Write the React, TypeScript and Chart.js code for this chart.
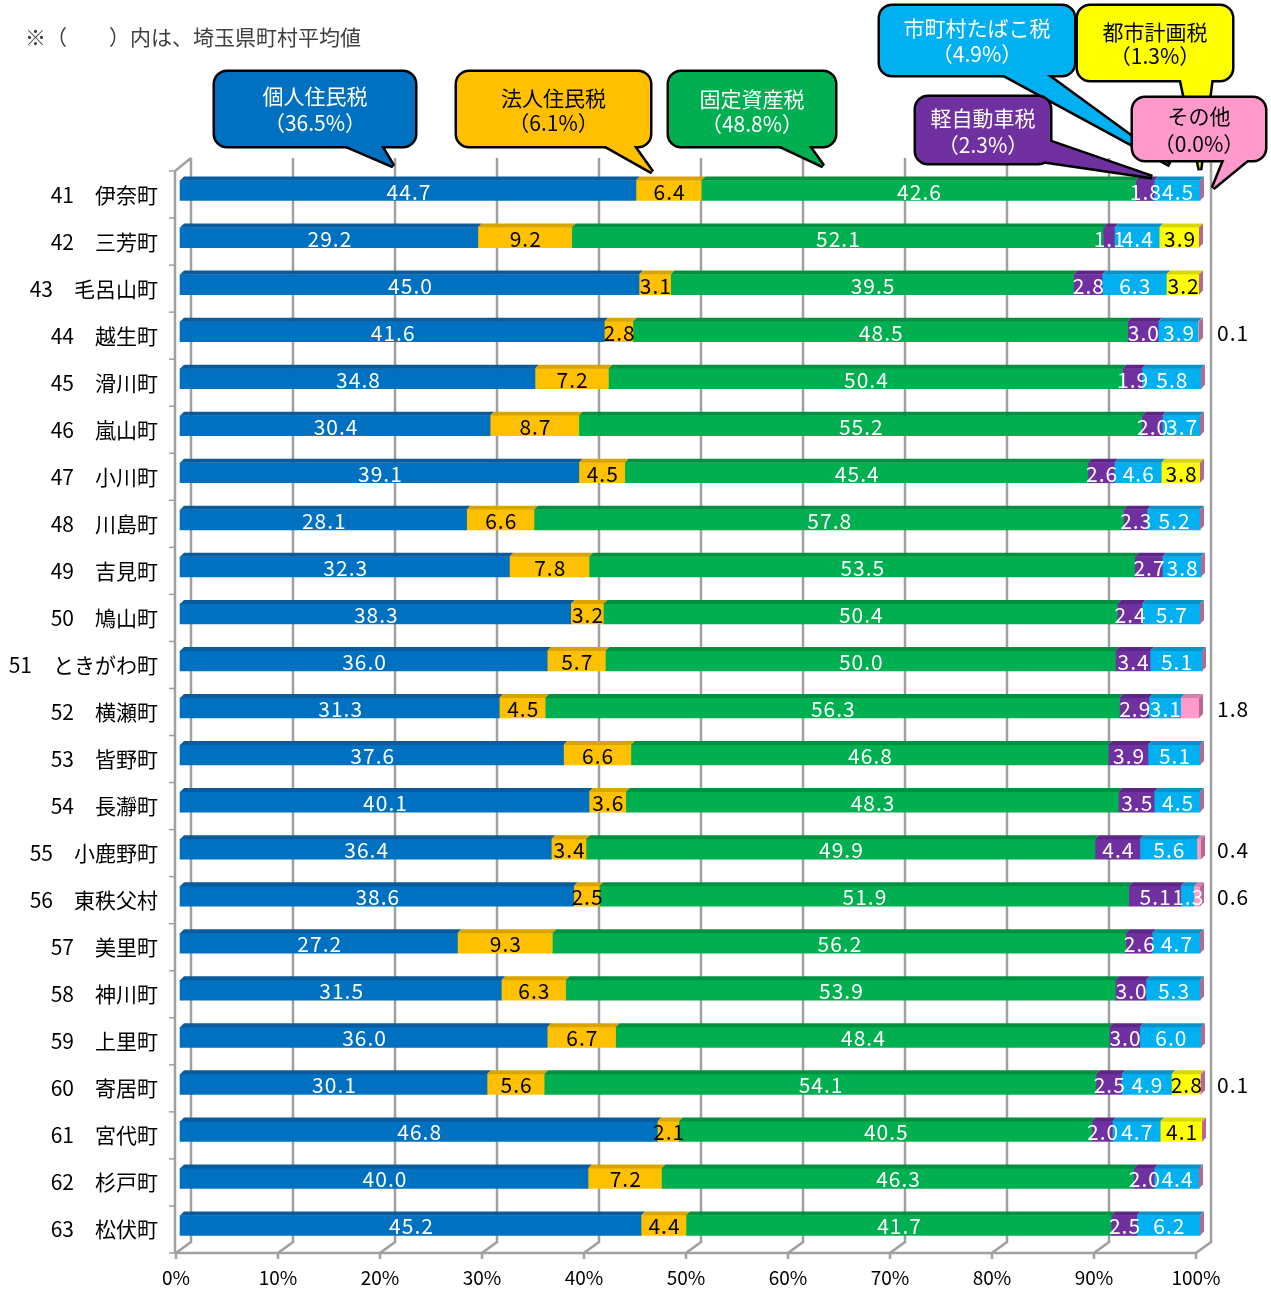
import React, { useEffect, useRef } from "react";
import { Chart, registerables } from "chart.js";

Chart.register(...registerables);

// ---------------- data ----------------
const categories = [
  "41　伊奈町", "42　三芳町", "43　毛呂山町", "44　越生町", "45　滑川町", "46　嵐山町",
  "47　小川町", "48　川島町", "49　吉見町", "50　鳩山町", "51　ときがわ町", "52　横瀬町",
  "53　皆野町", "54　長瀞町", "55　小鹿野町", "56　東秩父村", "57　美里町", "58　神川町",
  "59　上里町", "60　寄居町", "61　宮代町", "62　杉戸町", "63　松伏町",
];

const seriesNames = ["個人住民税", "法人住民税", "固定資産税", "軽自動車税", "市町村たばこ税", "都市計画税", "その他"];
const averages = ["36.5", "6.1", "48.8", "2.3", "4.9", "1.3", "0.0"];

const kojin = [44.7, 29.2, 45.0, 41.6, 34.8, 30.4, 39.1, 28.1, 32.3, 38.3, 36.0, 31.3, 37.6, 40.1, 36.4, 38.6, 27.2, 31.5, 36.0, 30.1, 46.8, 40.0, 45.2];
const houjin = [6.4, 9.2, 3.1, 2.8, 7.2, 8.7, 4.5, 6.6, 7.8, 3.2, 5.7, 4.5, 6.6, 3.6, 3.4, 2.5, 9.3, 6.3, 6.7, 5.6, 2.1, 7.2, 4.4];
const kotei = [42.6, 52.1, 39.5, 48.5, 50.4, 55.2, 45.4, 57.8, 53.5, 50.4, 50.0, 56.3, 46.8, 48.3, 49.9, 51.9, 56.2, 53.9, 48.4, 54.1, 40.5, 46.3, 41.7];
const kei = [1.8, 1.1, 2.8, 3.0, 1.9, 2.0, 2.6, 2.3, 2.7, 2.4, 3.4, 2.9, 3.9, 3.5, 4.4, 5.1, 2.6, 3.0, 3.0, 2.5, 2.0, 2.0, 2.5];
const tabako = [4.5, 4.4, 6.3, 3.9, 5.8, 3.7, 4.6, 5.2, 3.8, 5.7, 5.1, 3.1, 5.1, 4.5, 5.6, 1.3, 4.7, 5.3, 6.0, 4.9, 4.7, 4.4, 6.2];
const toshi = [0, 3.9, 3.2, 0, 0, 0, 3.8, 0, 0, 0, 0, 0, 0, 0, 0, 0, 0, 0, 0, 2.8, 4.1, 0, 0];
const sonota = [0, 0, 0, 0.1, 0, 0, 0, 0, 0, 0, 0, 1.8, 0, 0, 0.4, 0.6, 0, 0, 0, 0.1, 0, 0, 0];

const xTicks = [0, 10, 20, 30, 40, 50, 60, 70, 80, 90, 100];
const noteText = "※（　　）内は、埼玉県町村平均値";

// ---------------- styles ----------------
const FONT = "'Noto Sans CJK JP', 'Noto Sans', sans-serif";
const colors = ["#0070C0", "#FFC000", "#00B050", "#7030A0", "#00B0F0", "#FFFF00", "#FF99CC"];
const topColors = ["#0A5A9C", "#D9A300", "#00903F", "#5C2686", "#0A92C8", "#D8D800", "#D57FAA"];
const labelColors = ["#FFFFFF", "#000000", "#FFFFFF", "#FFFFFF", "#FFFFFF", "#000000", "#000000"];
const SIDE_COLOR = "#B5698F";

const DX = 4;
const DY = -4;
const DEPTH = 4;
const BACK_DX = 15;
const BACK_DY = -11;

type Bubble = {
  s: number; x: number; y: number; w: number; h: number;
  tail: number[][]; l1: number; l2: number;
};

const bubbles: Bubble[] = [
  { s: 0, x: 215, y: 72, w: 200, h: 74, tail: [[335, 141], [393, 166], [378, 141]], l1: 96, l2: 123 },
  { s: 1, x: 457, y: 72, w: 193, h: 74, tail: [[597, 141], [652, 172], [630, 141]], l1: 98, l2: 123 },
  { s: 2, x: 669, y: 72, w: 166, h: 74, tail: [[770, 141], [823, 166], [805, 141]], l1: 99, l2: 124 },
  { s: 4, x: 880, y: 6, w: 194, h: 69, tail: [[995, 70], [1170, 165], [1040, 70]], l1: 28, l2: 54 },
  { s: 5, x: 1078, y: 6, w: 154, h: 74, tail: [[1180, 75], [1200, 170], [1212, 75]], l1: 32, l2: 56 },
  { s: 3, x: 916, y: 97, w: 134, h: 66, tail: [[1022, 158], [1152, 177], [1045, 140]], l1: 118, l2: 145 },
  { s: 6, x: 1133, y: 98, w: 132, h: 62, tail: [[1226, 156], [1213, 188], [1252, 156]], l1: 116, l2: 144 },
];

function drawBubble(ctx: CanvasRenderingContext2D, b: Bubble) {
  const rect = new Path2D();
  rect.roundRect(b.x, b.y, b.w, b.h, 12);
  const tri = new Path2D();
  tri.moveTo(b.tail[0][0], b.tail[0][1]);
  tri.lineTo(b.tail[1][0], b.tail[1][1]);
  tri.lineTo(b.tail[2][0], b.tail[2][1]);
  tri.closePath();
  ctx.save();
  ctx.lineJoin = "miter";
  ctx.miterLimit = 3;
  ctx.lineWidth = 5;
  ctx.strokeStyle = "#000000";
  ctx.stroke(rect);
  ctx.stroke(tri);
  ctx.fillStyle = colors[b.s];
  ctx.fill(rect);
  ctx.fill(tri);
  ctx.fillStyle = labelColors[b.s];
  ctx.font = `21px ${FONT}`;
  ctx.textAlign = "center";
  ctx.textBaseline = "middle";
  const cx = b.x + b.w / 2;
  ctx.fillText(seriesNames[b.s], cx, b.l1);
  ctx.fillText(`（${averages[b.s]}%）`, cx, b.l2);
  ctx.restore();
}

const allSeries = [kojin, houjin, kotei, kei, tabako, toshi, sonota];

const plugin3d = {
  id: "custom3d",
  beforeDatasetsDraw(chart: any) {
    const { ctx, chartArea: a, scales } = chart;
    const xs = scales.x;
    ctx.save();
    ctx.strokeStyle = "#A0A0A0";
    ctx.lineWidth = 2.5;
    for (const v of xTicks) {
      const px = xs.getPixelForValue(v);
      ctx.beginPath();
      ctx.moveTo(px + BACK_DX, a.top - 13);
      ctx.lineTo(px + BACK_DX, a.bottom + BACK_DY);
      ctx.lineTo(px, a.bottom);
      ctx.lineTo(px, a.bottom + 6);
      ctx.stroke();
    }
    ctx.beginPath();
    ctx.moveTo(a.left - 1, a.bottom);
    ctx.lineTo(a.right, a.bottom);
    ctx.stroke();
    ctx.beginPath();
    ctx.moveTo(a.left - 1, a.bottom);
    ctx.lineTo(a.left - 1, a.top);
    ctx.lineTo(a.left + BACK_DX, a.top - 13);
    ctx.stroke();
    const n = categories.length;
    const band = (a.bottom - a.top) / n;
    ctx.lineWidth = 1.5;
    for (let k = 0; k <= n; k++) {
      const y = a.top + k * band;
      ctx.beginPath();
      ctx.moveTo(a.left - 7, y);
      ctx.lineTo(a.left - 1, y);
      ctx.stroke();
    }
    ctx.restore();
    ctx.save();
    ctx.translate(DX, DY);
  },
  afterDatasetsDraw(chart: any) {
    const { ctx, chartArea: a } = chart;
    // top faces
    allSeries.forEach((data, i) => {
      const meta = chart.getDatasetMeta(i);
      meta.data.forEach((el: any, j: number) => {
        if (!(data[j] > 0)) return;
        const p = el.getProps(["x", "y", "base", "height"], true);
        const x0 = Math.min(p.x, p.base);
        const x1 = Math.max(p.x, p.base);
        const yTop = p.y - p.height / 2;
        ctx.beginPath();
        ctx.moveTo(x0, yTop);
        ctx.lineTo(x0 + DEPTH, yTop - DEPTH);
        ctx.lineTo(x1 + DEPTH, yTop - DEPTH);
        ctx.lineTo(x1, yTop);
        ctx.closePath();
        ctx.fillStyle = topColors[i];
        ctx.fill();
      });
    });
    // side faces
    const last = chart.getDatasetMeta(allSeries.length - 1);
    last.data.forEach((el: any) => {
      const p = el.getProps(["x", "y", "base", "height"], true);
      const xe = Math.max(p.x, p.base);
      const yTop = p.y - p.height / 2;
      const yBot = p.y + p.height / 2;
      ctx.beginPath();
      ctx.moveTo(xe, yTop);
      ctx.lineTo(xe + DEPTH, yTop - DEPTH);
      ctx.lineTo(xe + DEPTH, yBot - DEPTH);
      ctx.lineTo(xe, yBot);
      ctx.closePath();
      ctx.fillStyle = SIDE_COLOR;
      ctx.fill();
    });
    // labels
    ctx.font = `21px ${FONT}`;
    (ctx as any).letterSpacing = "1px";
    ctx.textBaseline = "middle";
    allSeries.forEach((data, i) => {
      const meta = chart.getDatasetMeta(i);
      meta.data.forEach((el: any, j: number) => {
        const v = data[j];
        if (!(v > 0)) return;
        const p = el.getProps(["x", "y", "base"], true);
        ctx.fillStyle = labelColors[i];
        if (i === allSeries.length - 1) {
          ctx.textAlign = "left";
          ctx.fillStyle = "#000000";
          ctx.fillText(v.toFixed(1), a.right + 17, p.y + 1);
        } else {
          ctx.textAlign = "center";
          ctx.fillText(v.toFixed(1), (p.x + p.base) / 2 + 1, p.y + 1);
        }
      });
    });
    (ctx as any).letterSpacing = "0px";
    ctx.restore();
  },
  afterDraw(chart: any) {
    const { ctx } = chart;
    ctx.save();
    ctx.font = `21px ${FONT}`;
    ctx.fillStyle = "#404040";
    ctx.textAlign = "left";
    ctx.textBaseline = "middle";
    ctx.fillText(noteText, 25, 37);
    ctx.restore();
    for (const b of bubbles) drawBubble(ctx, b);
  },
};

export default function App() {
  const ref = useRef<HTMLCanvasElement | null>(null);
  useEffect(() => {
    document.body.style.margin = "0";
    document.documentElement.style.overflow = "hidden";
    const canvas = ref.current;
    if (!canvas) return;
    const chart = new Chart(canvas, {
      type: "bar",
      data: {
        labels: categories,
        datasets: allSeries.map((d, i) => ({
          label: seriesNames[i],
          data: d,
          backgroundColor: colors[i],
          borderWidth: 0,
          barThickness: 20,
          clip: false as any,
        })),
      },
      options: {
        indexAxis: "y",
        animation: false,
        responsive: false,
        maintainAspectRatio: false,
        devicePixelRatio: 1,
        layout: { padding: { top: 171, right: 75, left: 0, bottom: 0 } },
        plugins: {
          legend: { display: false },
          tooltip: { enabled: false },
          title: { display: false },
        },
        scales: {
          x: {
            stacked: true,
            min: 0,
            max: 100,
            grid: { display: false, drawTicks: false },
            border: { display: false },
            ticks: {
              stepSize: 10,
              padding: 13,
              color: "#000000",
              font: { family: FONT, size: 19 },
              callback: (v: any) => `${v}%`,
            },
            afterFit: (s: any) => { s.height = 39; },
          },
          y: {
            stacked: true,
            grid: { display: false, drawTicks: false },
            border: { display: false },
            ticks: {
              autoSkip: false,
              padding: 18,
              color: "#000000",
              font: { family: FONT, size: 21 },
            },
            afterFit: (s: any) => { s.width = 176; },
          },
        },
      },
      plugins: [plugin3d],
    });
    return () => chart.destroy();
  }, []);
  return (
    <div style={{ width: 1271, height: 1292, overflow: "hidden", position: "relative", background: "#fff" }}>
      <canvas ref={ref} width={1271} height={1292} style={{ display: "block" }} />
    </div>
  );
}
